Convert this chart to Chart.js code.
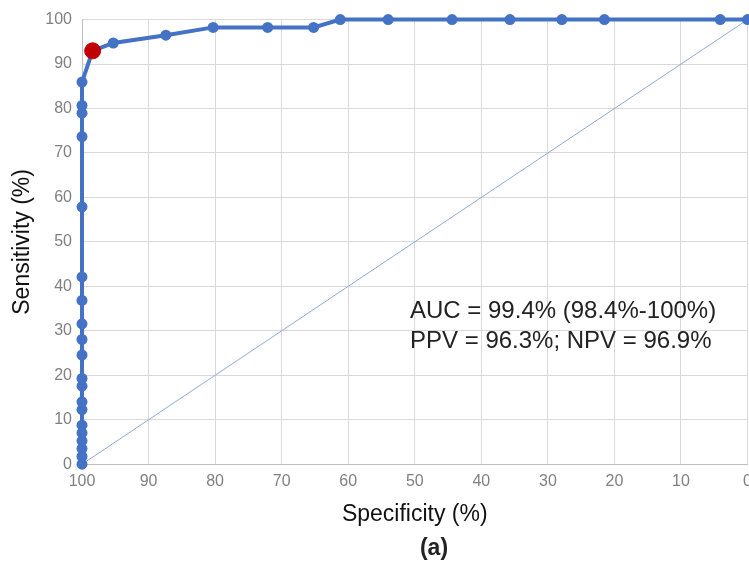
<!DOCTYPE html>
<html>
<head>
<meta charset="utf-8">
<script src="https://cdn.jsdelivr.net/npm/chart.js@4.4.0/dist/chart.umd.min.js"></script>
<style>
  html, body { margin: 0; padding: 0; background: #fff; overflow: hidden; }
  #wrap { width: 760px; height: 563px; }
</style>
</head>
<body>
<div id="wrap"><canvas id="roc"></canvas></div>
<script>
// ROC curve - specificity (x, reversed) vs sensitivity (y)
const specificity = [100, 100, 100, 100, 100, 100, 100, 100, 100, 100,
  100, 100, 100, 100, 100, 100, 100, 100, 100, 100,
  98.4, 95.3, 87.4, 80.3, 72.1, 65.2, 61.2, 54.0, 44.4, 35.7,
  27.9, 21.5, 4.1, 0];
const sensitivity = [0, 1.75, 3.51, 5.26, 7.02, 8.77, 12.28, 14.04, 17.54, 19.3,
  24.56, 28.07, 31.58, 36.84, 42.11, 57.89, 73.68, 78.95, 80.7, 85.96,
  92.98, 94.74, 96.49, 98.25, 98.25, 98.25, 100, 100, 100, 100,
  100, 100, 100, 100];

// optimal cut-off (red point)
const cutoffSpec = [98.4];
const cutoffSens = [92.98];

// reference (chance) line
const chanceSpec = [100, 0];
const chanceSens = [0, 100];

const xTicks = [100, 90, 80, 70, 60, 50, 40, 30, 20, 10, 0];

const annotationLines = [
  "AUC = 99.4% (98.4%-100%)",
  "PPV = 96.3%; NPV = 96.9%",
];
const panelLabel = "(a)";

const toPoints = (xs, ys) => xs.map((x, i) => ({ x: x, y: ys[i] }));

const tickFont = { family: "'Liberation Sans Narrow', 'Liberation Sans', Arial, sans-serif", size: 16 };
const titleFont = { family: "'Liberation Sans', Arial, sans-serif", size: 23 };

// draws the AUC text and the (a) label
const textPlugin = {
  id: "rocText",
  afterDraw(chart) {
    const ctx = chart.ctx;
    ctx.save();
    ctx.fillStyle = "#222";
    ctx.font = "24px 'Liberation Sans', Arial, sans-serif";
    ctx.textAlign = "left";
    ctx.textBaseline = "alphabetic";
    annotationLines.forEach((t, i) => {
      ctx.fillText(t, 410, 318 + i * 30);
    });
    ctx.font = "bold 23px 'Liberation Sans', Arial, sans-serif";
    ctx.textAlign = "center";
    ctx.textBaseline = "middle";
    ctx.fillText(panelLabel, 434, 549);
    ctx.restore();
  },
};

new Chart(document.getElementById("roc"), {
  type: "scatter",
  data: {
    datasets: [
      {
        label: "Cut-off",
        data: toPoints(cutoffSpec, cutoffSens),
        backgroundColor: "#c00000",
        borderColor: "#c00000",
        pointRadius: 8,
        clip: false,
        order: 0,
      },
      {
        label: "ROC",
        data: toPoints(specificity, sensitivity),
        showLine: true,
        borderColor: "#4472c4",
        backgroundColor: "#4472c4",
        borderWidth: 4,
        pointRadius: 5.5,
        pointBorderWidth: 0,
        clip: false,
        order: 1,
      },
      {
        label: "Chance",
        data: toPoints(chanceSpec, chanceSens),
        showLine: true,
        borderColor: "#8eaadb",
        borderWidth: 1,
        pointRadius: 0,
        order: 2,
      },
    ],
  },
  options: {
    responsive: true,
    maintainAspectRatio: false,
    animation: false,
    layout: { padding: { top: 18, left: 0, right: 0, bottom: 33 } },
    plugins: {
      legend: { display: false },
      tooltip: { enabled: false },
    },
    scales: {
      x: {
        type: "linear",
        reverse: true,
        min: 0,
        max: 100,
        afterBuildTicks: (scale) => {
          scale.ticks = xTicks.map((v) => ({ value: v }));
        },
        ticks: { font: tickFont, color: "#808080", padding: 8 },
        grid: { color: "#d9d9d9", drawTicks: false },
        border: { color: "#bfbfbf" },
        title: {
          display: true,
          text: "Specificity (%)",
          font: titleFont,
          color: "#111",
          padding: { top: 1, bottom: 2 },
        },
      },
      y: {
        min: 0,
        max: 100,
        ticks: { stepSize: 10, font: tickFont, color: "#808080", padding: 10 },
        grid: { color: "#d9d9d9", drawTicks: false },
        border: { color: "#bfbfbf" },
        afterFit: (scale) => { scale.width = 82; },
        title: {
          display: true,
          text: "Sensitivity (%)",
          font: titleFont,
          color: "#111",
          padding: { top: 9, bottom: 0 },
        },
      },
    },
  },
  plugins: [textPlugin],
});
</script>
</body>
</html>
